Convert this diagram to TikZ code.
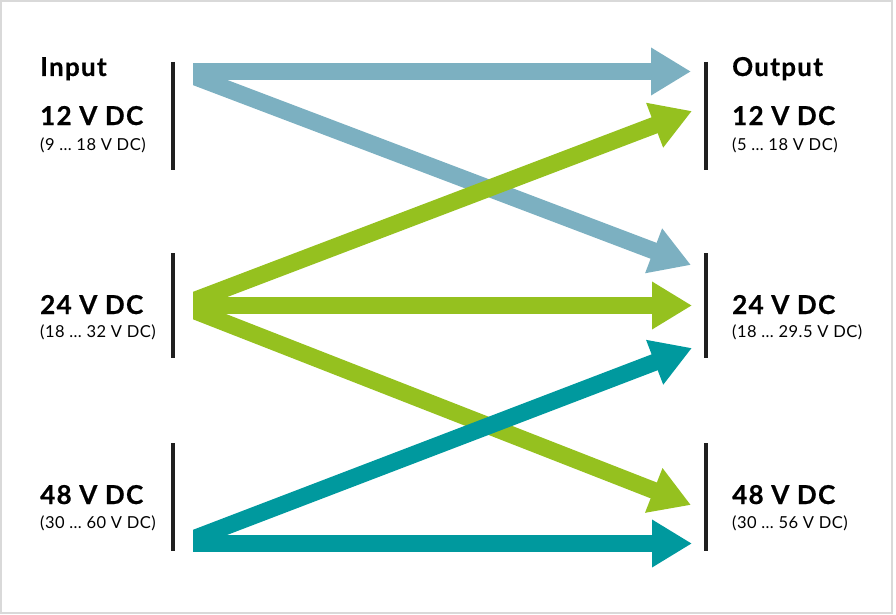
\documentclass[tikz,border=0pt]{standalone}
\usepackage{fontspec}
\setmainfont{Lato}
\newfontfamily\voltfont{Lato}[LetterSpace=5,BoldFeatures={FakeBold=0.6}]
\newfontfamily\rangefont{Lato}[LetterSpace=3]
\usetikzlibrary{arrows.meta}

\definecolor{flowblue}{HTML}{7CB0C1}
\definecolor{flowgreen}{HTML}{95C11F}
\definecolor{flowteal}{HTML}{00999E}

\tikzset{
  bar/.style={line width=3.8, black!88},
  volt/.style={anchor=base west, inner sep=0, font=\voltfont\fontsize{26}{31}\selectfont\bfseries},
  rangetext/.style={anchor=base west, inner sep=0, font=\rangefont\fontsize{16.5}{19}\selectfont},
  flow/.style={line width=17, -{Triangle[length=40pt,width=45pt]}},
}

\begin{document}
\begin{tikzpicture}[x=1pt,y=1pt,yscale=-1,xscale=1]
\useasboundingbox (0,0) rectangle (896,615);
\draw [gray!30, line width=1.5] (1,1) rectangle (892,613);
% input side
\node [volt] (inhead) at (40,76) {Input};
\node [volt] (in12) at (40,125) {12 V DC};
\node [rangetext] (in12r) at (40,150) {(9 … 18 V DC)};
\node [volt] (in24) at (40,314) {24 V DC};
\node [rangetext] (in24r) at (40,337) {(18 … 32 V DC)};
\node [volt] (in48) at (40,504) {48 V DC};
\node [rangetext] (in48r) at (40,528) {(30 … 60 V DC)};
\draw [bar] (173,62) -- (173,170);
\draw [bar] (173,253) -- (173,358);
\draw [bar] (173,443) -- (173,551);
% output side
\node [volt] (outhead) at (732,76) {Output};
\node [volt] (out12) at (732,125) {12 V DC};
\node [rangetext] (out12r) at (732,150) {(5 … 18 V DC)};
\node [volt] (out24) at (732,314) {24 V DC};
\node [rangetext] (out24r) at (732,337) {(18 … 29.5 V DC)};
\node [volt] (out48) at (732,504) {48 V DC};
\node [rangetext] (out48r) at (732,528) {(30 … 56 V DC)};
\draw [bar] (706,62) -- (706,170);
\draw [bar] (706,253) -- (706,358);
\draw [bar] (706,443) -- (706,551);
% arrow ends
\coordinate (s12) at (181,71.5);
\coordinate (s24) at (181,305.5);
\coordinate (s48) at (181,543.5);
\coordinate (o12b) at (691,71.5);
\coordinate (o12g) at (692,111);
\coordinate (o24b) at (691,265);
\coordinate (o24g) at (692,305.5);
\coordinate (o24t) at (692,348);
\coordinate (o48g) at (691,505);
\coordinate (o48t) at (692,543.5);
\begin{scope}
\clip (193,0) rectangle (896,615);
\draw [flow, flowblue] (s12) -- (o12b);
\draw [flow, flowblue] (s12) -- (o24b);
\draw [flow, flowgreen] (s24) -- (o12g);
\draw [flow, flowgreen] (s24) -- (o24g);
\draw [flow, flowgreen] (s24) -- (o48g);
\draw [flow, flowteal] (s48) -- (o24t);
\draw [flow, flowteal] (s48) -- (o48t);
\end{scope}
\end{tikzpicture}
\end{document}
